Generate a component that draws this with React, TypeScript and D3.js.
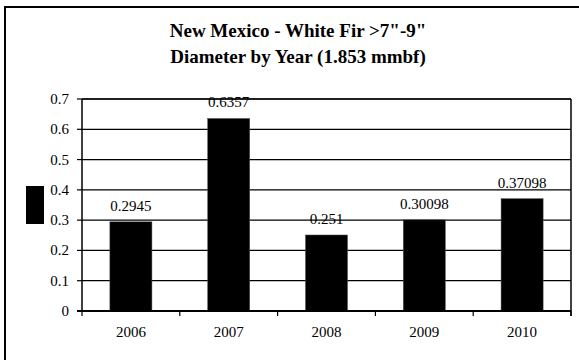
import React from "react";
import * as d3 from "d3";

const years = ["2006", "2007", "2008", "2009", "2010"];
const values = [0.2945, 0.6357, 0.251, 0.30098, 0.37098];
const valueLabels = ["0.2945", "0.6357", "0.251", "0.30098", "0.37098"];
const yTicks = [0, 0.1, 0.2, 0.3, 0.4, 0.5, 0.6, 0.7];
const titleLines = ['New Mexico - White Fir >7"-9"', "Diameter by Year (1.853 mmbf)"];

export default function App() {
  const W = 579, H = 360;
  const left = 82, right = 571, top = 99, bottom = 311;
  const x = d3.scaleBand<string>().domain(years).range([left, right]).padding(0);
  const y = d3.scaleLinear().domain([0, 0.7]).range([bottom, top]);
  const bw = x.bandwidth() * 0.43;
  const font = "'Liberation Serif', 'Times New Roman', serif";
  const boundaries = d3.range(years.length + 1).map((i) => left + i * x.step());
  return (
    <svg width={W} height={H} style={{ position: "absolute", left: 0, top: 0 }} fontFamily={font}>
      <rect x={0} y={0} width={W} height={H} fill="#fff" />
      <rect x={5} y={7} width={W + 10} height={H + 10} fill="none" stroke="#000" strokeWidth={2} />
      {titleLines.map((t, i) => (
        <text key={i} x={298} y={36.5 + i * 26.5} textAnchor="middle" fontSize={19} fontWeight="bold">
          {t}
        </text>
      ))}
      {/* gridlines */}
      {yTicks.slice(1).map((v) => (
        <line key={v} x1={left} x2={right} y1={y(v)} y2={y(v)} stroke="#000" strokeWidth={1.2} />
      ))}
      {/* y ticks & labels */}
      {yTicks.map((v) => (
        <g key={"t" + v}>
          <line x1={left - 5} x2={left} y1={y(v)} y2={y(v)} stroke="#000" strokeWidth={1.2} />
          <text x={left - 13} y={y(v) + 5} textAnchor="end" fontSize={15}>
            {d3.format("")(v)}
          </text>
        </g>
      ))}
      {/* bars */}
      {years.map((yr, i) => {
        const cx = (x(yr) as number) + x.bandwidth() / 2;
        return (
          <g key={yr}>
            <rect x={cx - bw / 2} y={y(values[i])} width={bw} height={bottom - y(values[i])} fill="#000" stroke="#555" strokeWidth={0.5} />
            <text x={cx} y={y(values[i]) - 11} textAnchor="middle" fontSize={15}>
              {valueLabels[i]}
            </text>
            <text x={cx} y={337} textAnchor="middle" fontSize={15}>
              {yr}
            </text>
          </g>
        );
      })}
      {/* axes */}
      <line x1={left} x2={left} y1={top} y2={bottom} stroke="#000" strokeWidth={1.5} />
      <line x1={right} x2={right} y1={top} y2={bottom + 5} stroke="#000" strokeWidth={1.5} />
      <line x1={left} x2={right} y1={top} y2={top} stroke="#000" strokeWidth={1.5} />
      <line x1={left - 5} x2={right} y1={bottom} y2={bottom} stroke="#000" strokeWidth={2} />
      {boundaries.map((bx, i) => (
        <line key={"b" + i} x1={bx} x2={bx} y1={bottom} y2={bottom + 5} stroke="#000" strokeWidth={1.2} />
      ))}
      {/* legend key */}
      <rect x={26} y={186} width={18} height={38} fill="#000" />
    </svg>
  );
}
